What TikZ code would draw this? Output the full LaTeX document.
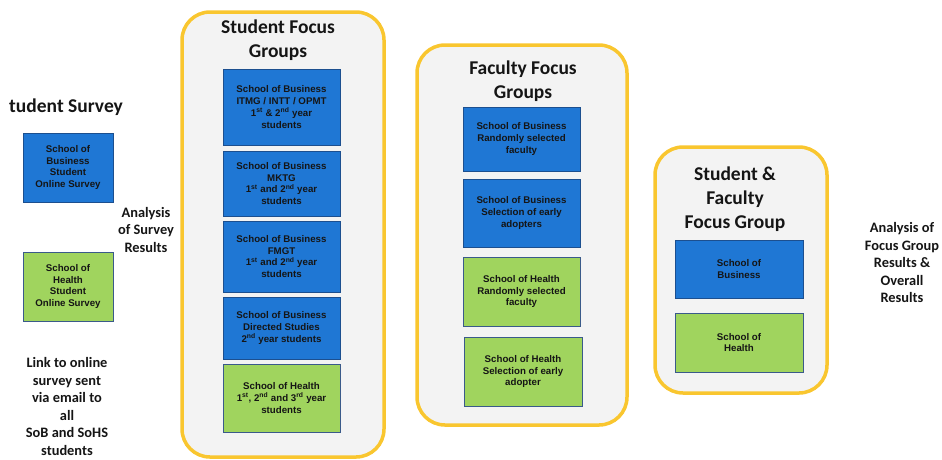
\documentclass[tikz,border=0pt]{standalone}
\usepackage{fontspec}
\setmainfont{Carlito}
\newfontfamily\boxfnt{Liberation Sans}
\newcommand\supx[1]{\smash{\textsuperscript{#1}}}
\definecolor{blu}{HTML}{1F77D4}
\definecolor{blubd}{HTML}{1C4F8F}
\definecolor{grn}{HTML}{A0D45E}
\definecolor{grnbd}{HTML}{3A5A8A}
\definecolor{yel}{HTML}{F9C62F}
\definecolor{contfill}{HTML}{F3F3F3}
\definecolor{txt}{HTML}{151515}
\tikzset{
  container/.style={draw=yel, line width=3.5pt, fill=contfill, rounded corners=28pt, inner sep=0pt},
  bbox/.style={draw=blubd, fill=blu, line width=1pt, align=center, inner sep=1pt, text=txt,
    font=\boxfnt\bfseries\fontsize{9.7}{11.8}\selectfont},
  gbox/.style={bbox, draw=grnbd, fill=grn},
  titletxt/.style={align=center, text=txt, font=\bfseries\fontsize{19.5}{23.8}\selectfont, inner sep=0pt},
  sidetxt/.style={align=center, text=txt, font=\bfseries\fontsize{14.4}{17.5}\selectfont, inner sep=0pt}
}
\begin{document}
\begin{tikzpicture}[x=1pt,y=-1pt]
\useasboundingbox (0,0) rectangle (942,459);
% left survey column
\node[titletxt, anchor=west] (stitle) at (9,107) {tudent Survey};
\node[bbox, minimum width=90pt, minimum height=69pt] (l1) at (68,167.5) {School of\\Business\\Student\\Online Survey};
\node[gbox, minimum width=90pt, minimum height=69pt] (l2) at (68,286.5) {School of\\Health\\Student\\Online Survey};
\node[sidetxt] (analysis1) at (146,229.5) {Analysis\\of Survey\\Results};
\node[sidetxt] (link) at (67,406.5) {Link to online\\survey sent\\via email to\\all\\SoB and SoHS\\students};
% Student Focus Groups
\node[container, minimum width=202pt, minimum height=445pt] (sfg) at (283,234.5) {};
\node[titletxt] (sfgt) at (278,40) {Student Focus\\Groups};
\node[bbox, minimum width=117pt, minimum height=76pt] (s1) at (281.5,107) {School of Business\\ITMG / INTT / OPMT\\1\supx{st} \& 2\supx{nd} year\\students};
\node[bbox, minimum width=117pt, minimum height=65pt] (s2) at (281.5,183.5) {School of Business\\MKTG\\1\supx{st} and 2\supx{nd} year\\students};
\node[bbox, minimum width=117pt, minimum height=71pt] (s3) at (281.5,256.5) {School of Business\\FMGT\\1\supx{st} and 2\supx{nd} year\\students};
\node[bbox, minimum width=117pt, minimum height=62pt] (s4) at (281.5,328) {School of Business\\Directed Studies\\2\supx{nd} year students};
\node[gbox, minimum width=117pt, minimum height=68pt] (s5) at (281.5,398) {School of Health\\1\supx{st}, 2\supx{nd} and 3\supx{rd} year\\students};
% Faculty Focus Groups
\node[container, minimum width=210pt, minimum height=380pt] (ffg) at (522,235) {};
\node[titletxt] (ffgt) at (523,81.5) {Faculty Focus\\Groups};
\node[bbox, minimum width=117pt, minimum height=64pt] (f1) at (521.5,139) {School of Business\\Randomly selected\\faculty};
\node[bbox, minimum width=117pt, minimum height=68pt] (f2) at (521.5,213) {School of Business\\Selection of early\\adopters};
\node[gbox, minimum width=117pt, minimum height=69pt] (f3) at (521.5,291.5) {School of Health\\Randomly selected\\faculty};
\node[gbox, minimum width=118pt, minimum height=69pt] (f4) at (523,371.5) {School of Health\\Selection of early\\adopter};
% Student & Faculty Focus Group
\node[container, minimum width=172pt, minimum height=246pt] (sffg) at (741,270) {};
\node[titletxt] (sffgt) at (735,199) {Student \&\\Faculty\\Focus Group};
\node[bbox, minimum width=128pt, minimum height=58pt] (j1) at (739,269) {School of\\Business};
\node[gbox, minimum width=128pt, minimum height=59pt] (j2) at (739,342.5) {School of\\Health};
\node[sidetxt] (analysis2) at (902,262.5) {Analysis of\\Focus Group\\Results \&\\Overall\\Results};
\end{tikzpicture}
\end{document}
